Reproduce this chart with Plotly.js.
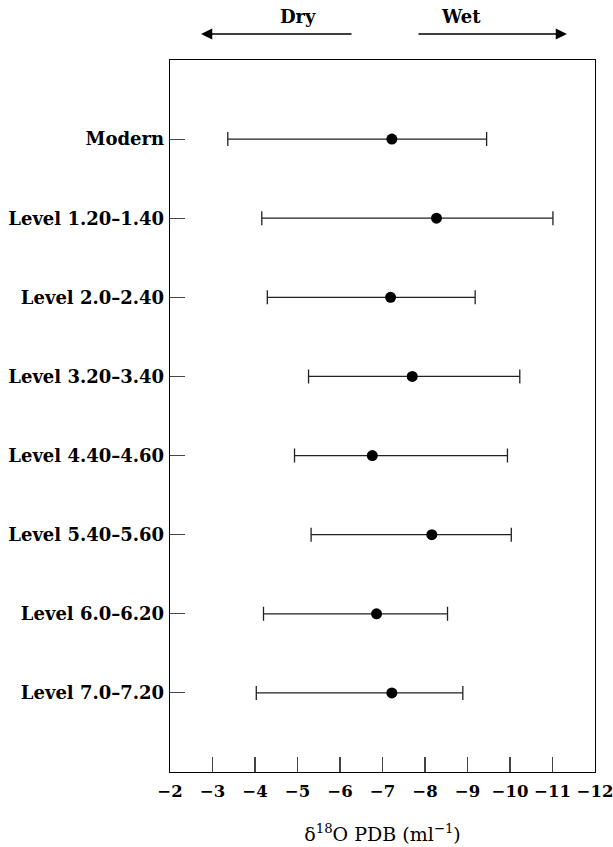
<!DOCTYPE html>
<html>
<head>
<meta charset="utf-8">
<script src="https://cdn.plot.ly/plotly-3.0.1.min.js"></script>
<style>html,body{margin:0;padding:0;background:#fff;}#chart{width:613px;height:847px;}</style>
</head>
<body>
<div id="chart"></div>
<script>
// Categories (top to bottom)
const categories = ["Modern", "Level 1.20–1.40", "Level 2.0–2.40", "Level 3.20–3.40",
  "Level 4.40–4.60", "Level 5.40–5.60", "Level 6.0–6.20", "Level 7.0–7.20"];
// Mean δ18O values
const meanValues = [-7.22, -8.27, -7.19, -7.70, -6.76, -8.16, -6.86, -7.22];
// Range ends: dry side (less negative) and wet side (more negative)
const dryEnds = [-3.36, -4.16, -4.29, -5.26, -4.93, -5.32, -4.20, -4.03];
const wetEnds = [-9.45, -11.01, -9.18, -10.23, -9.94, -10.03, -8.53, -8.89];
const xTickValues = [-2, -3, -4, -5, -6, -7, -8, -9, -10, -11, -12];

const n = categories.length;
const yPos = categories.map((c, i) => n - i);

const FONT = "DejaVu Serif, Liberation Serif, serif";

const trace = {
  type: "scatter",
  mode: "markers",
  x: meanValues,
  y: yPos,
  marker: {color: "#000", size: 11},
  error_x: {
    type: "data",
    symmetric: false,
    array: meanValues.map((m, i) => dryEnds[i] - m),
    arrayminus: meanValues.map((m, i) => m - wetEnds[i]),
    color: "#222",
    thickness: 1.3,
    width: 7
  },
  showlegend: false,
  hoverinfo: "skip"
};

const layout = {
  width: 613, height: 847,
  margin: {l: 170, r: 18, t: 60, b: 75},
  paper_bgcolor: "#fff", plot_bgcolor: "#fff",
  font: {family: FONT, color: "#000", size: 16},
  showlegend: false,
  xaxis: {
    range: [-2, -12],
    tickvals: xTickValues,
    ticks: "inside", ticklen: 15, tickwidth: 1.2, tickcolor: "#444",
    showgrid: false, zeroline: false,
    showline: true, linecolor: "#000", linewidth: 1.3, mirror: true,
    tickfont: {family: FONT, size: 16.5, color: "#000", weight: "bold"},
    ticklabelstandoff: 4,
    ticklabeloverflow: "allow",
    title: {text: "δ<sup>18</sup>O PDB (ml<sup>−1</sup>)", font: {family: FONT, size: 19, color: "#000"}, standoff: 27}
  },
  yaxis: {
    range: [0, n + 1],
    tickvals: yPos,
    ticktext: categories,
    ticks: "inside", ticklen: 15, tickwidth: 1.2, tickcolor: "#444",
    showgrid: false, zeroline: false,
    showline: true, linecolor: "#000", linewidth: 1.3, mirror: true,
    tickfont: {family: FONT, size: 18, color: "#000", weight: "bold"},
    ticklabelstandoff: 1
  },
  annotations: [
    {xref: "paper", yref: "paper", x: 0.253, y: 1.061, text: "Dry", showarrow: false,
     font: {family: FONT, size: 18, color: "#000", weight: "bold"}, yanchor: "middle"},
    {xref: "paper", yref: "paper", x: 0.736, y: 1.061, text: "Wet", showarrow: false,
     font: {family: FONT, size: 18, color: "#000", weight: "bold"}, yanchor: "middle"},
    {xref: "paper", yref: "paper", x: 0.073, y: 1.0365, text: "", showarrow: true,
     ax: 152, ay: 0, arrowhead: 2, arrowsize: 1.6, arrowwidth: 1.4, arrowcolor: "#000"},
    {xref: "paper", yref: "paper", x: 0.934, y: 1.0365, text: "", showarrow: true,
     ax: -150, ay: 0, arrowhead: 2, arrowsize: 1.6, arrowwidth: 1.4, arrowcolor: "#000"}
  ]
};

Plotly.newPlot("chart", [trace], layout, {displayModeBar: false, staticPlot: true});
</script>
</body>
</html>
